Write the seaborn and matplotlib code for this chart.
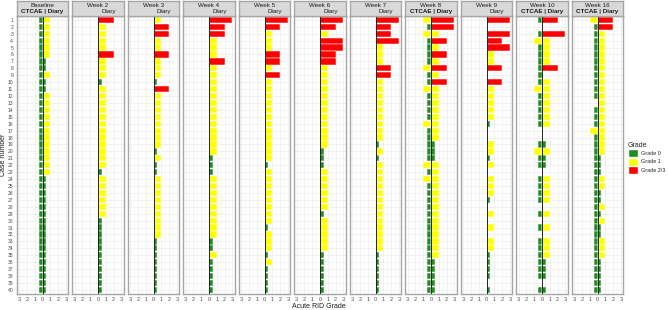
import numpy as np
import pandas as pd
import matplotlib
matplotlib.use('Agg')
import matplotlib.pyplot as plt
import seaborn as sns
from matplotlib.patches import Patch

N = None  # no record for that case
cases = list(range(1, 41))
panels = ['Baseline', 'Week 2', 'Week 3', 'Week 4', 'Week 5', 'Week 6',
          'Week 7', 'Week 8', 'Week 9', 'Week 10', 'Week 16']
grade_labels = ['Grade 0', 'Grade 1', 'Grade 2/3']
grade_colors = ['#228B22', '#FFFF00', '#FF0000']

# grades per case (1..40)
ctcae_base = [0] * 40
diary_base = [1, 1, 1, 1, 1, 1, 0, 0, 1, 0, 0, 1, 1, 1, 1, 1, 1, 1, 1, 1,
              1, 1, 1, 0, 0, 0, 0, 0, 0, 0, 0, 0, 0, 0, 0, 0, 0, 0, 0, 0]
diary_w2 = [2, 1, 1, 1, 1, 2, 1, 1, 1, 0, 1, 1, 1, 1, 1, 1, 1, 1, 1, 1,
            1, 1, 0, 1, 1, 1, 1, 1, 1, 0, 0, 0, 0, 0, 0, 0, 0, 0, 0, 0]
diary_w3 = [1, 2, 2, 1, 1, 2, 1, 1, 1, 0, 2, 1, 1, 1, 1, 1, 1, 1, 1, 0,
            1, 0, 0, 1, 1, 1, 1, 1, 1, 1, 1, 1, 0, 0, 0, 0, 0, 0, 0, 0]
diary_w4 = [3, 2, 2, 1, 1, 1, 2, 1, 1, 1, 1, 1, 1, 1, 1, 1, 1, 1, 1, 1,
            0, 0, 0, 1, 1, 1, 1, 1, 1, 1, 1, 1, 0, 0, 1, 0, 0, 0, 0, 0]
diary_w5 = [3, 2, 1, 1, 1, 2, 2, 1, 2, 1, 1, 1, 1, 1, 1, 1, 1, 1, 1, 1,
            1, 0, 1, 1, 1, 1, 1, 1, 1, 1, 0, 1, 1, 1, 0, 1, 0, 0, 0, 0]
diary_w6 = [3, 2, 1, 3, 3, 2, 2, 1, 1, 1, 1, 1, 1, 1, 1, 1, 1, 1, 1, 0,
            0, 0, 1, 1, 1, 1, 1, 1, 0, 1, 1, 1, 1, 1, 0, 0, 0, 0, 0, 0]
diary_w7 = [3, 2, 2, 3, 1, 1, 1, 2, 2, 1, 1, 1, 1, 1, 1, 1, 1, 1, 0, 1,
            0, 1, 1, 1, 1, 1, 1, 1, 1, 1, 1, 1, 1, 1, 0, 0, 0, 0, 0, 0]
ctcae_w8 = [1, 0, 1, 0, 0, 0, 0, 1, 0, 0, 1, 0, 0, 0, 0, 1, 0, 0, 0, 0,
            0, 1, 0, 1, 0, 0, 0, 0, 0, 0, 0, 0, 0, 0, 0, 0, 0, 0, 0, 0]
diary_w8 = [3, 3, 1, 2, 1, 2, 1, 2, 1, 2, 1, 1, 1, 1, 1, 1, 1, 1, 0, 0,
            0, 1, 1, 1, 1, 1, 1, 1, 1, 1, 1, 1, 1, 1, 1, 0, 0, 0, 0, 0]
diary_w9 = [3, N, 3, 2, 3, 1, 1, 2, N, 2, 1, 1, 1, 1, 1, 0, N, N, 1, 1,
            0, 1, N, 1, 1, 1, 0, N, 1, N, 1, N, 1, 1, 0, 0, 0, 0, N, 0]
ctcae_w10 = [0, N, 0, 1, 0, 0, 0, 0, 0, 0, 1, 0, 0, 0, 0, 0, N, N, 0, 1,
             0, 0, N, 0, 0, 0, 0, N, 0, N, 0, N, 0, 0, 0, 0, 0, 0, N, 0]
diary_w10 = [2, N, 3, 1, 1, 1, 1, 2, N, 1, 1, 1, 1, 1, 1, 1, N, N, 0, 1,
             0, 0, N, 1, 1, 1, 1, N, 1, N, 1, N, 1, 1, 1, 0, 0, 0, N, 0]
ctcae_w16 = [1, 0, 0, 0, 0, 0, 0, 0, 0, 0, 0, 0, N, 0, 0, 0, 1, 0, 0, 0,
             0, 0, 0, 0, 0, 0, 0, 0, 0, 0, 0, 0, 0, 0, 0, 0, 0, 0, 0, 0]
diary_w16 = [2, 2, 1, 1, 1, 1, 1, 1, 1, 1, 1, 1, 1, 1, 1, 1, 1, 1, 1, 1,
             0, 0, 0, 1, 1, 0, 0, 1, 0, 1, 0, 0, 1, 1, 1, 0, 0, 0, 0, 0]

ctcae = [ctcae_base, N, N, N, N, N, N, ctcae_w8, N, ctcae_w10, ctcae_w16]
diary = [diary_base, diary_w2, diary_w3, diary_w4, diary_w5, diary_w6,
         diary_w7, diary_w8, diary_w9, diary_w10, diary_w16]

# long table: CTCAE to the left (negative), Diary to the right
rows = []
for name, ct, di in zip(panels, ctcae, diary):
    for side, vals, sign in (('CTCAE', ct, -1), ('Diary', di, 1)):
        if vals is None:
            continue
        for c, g in zip(cases, vals):
            if g is None:
                continue
            length = 0.5 if g == 0 else g
            rows.append({'panel': name, 'side': side, 'case': c,
                         'grade': grade_labels[min(g, 2)], 'value': sign * length})
df = pd.DataFrame(rows)

sns.set_theme(style='white')
plt.rcParams['font.family'] = ['Liberation Sans', 'DejaVu Sans']

W, H = 669, 310
fig = plt.figure(figsize=(W / 100, H / 100), dpi=100)


def box(x0, y0, w, h):
    return [x0 / W, 1 - (y0 + h) / H, w / W, h / H]


border = '#A6A6A6'
for i, name in enumerate(panels):
    x0 = 16.7 + i * 55.5
    ax = fig.add_axes(box(x0, 15.7, 51.6, 278.3))
    for side in ['CTCAE', 'Diary']:
        sub = df[(df.panel == name) & (df.side == side)]
        if len(sub) == 0:
            continue
        sns.barplot(data=sub, x='value', y='case', hue='grade', order=cases,
                    hue_order=grade_labels, palette=grade_colors, orient='h',
                    dodge=False, width=0.9, saturation=1, errorbar=None,
                    legend=False, edgecolor='white', linewidth=0.35, ax=ax)
    ax.axvline(0, color='#222222', lw=0.7, zorder=3)
    ax.set_xlim(-3.3, 3.3)
    ax.set_ylim(39.6, -0.6)
    ax.set_xticks(range(-3, 4))
    ax.set_xticklabels(['3', '2', '1', '0', '1', '2', '3'])
    ax.set_xticks(np.arange(-2.5, 3, 1), minor=True)
    ax.set_yticks(range(40))
    ax.grid(True, which='major', color='#EBEBEB', lw=0.5)
    ax.grid(True, which='minor', axis='x', color='#F3F3F3', lw=0.3)
    ax.set_axisbelow(True)
    ax.set_xlabel('')
    ax.set_ylabel('')
    ax.tick_params(axis='x', labelsize=4, colors='#4D4D4D', length=1.5, width=0.4, pad=1)
    ax.tick_params(axis='x', which='minor', length=0)
    if i == 0:
        ax.set_yticklabels([str(c) for c in cases])
        ax.tick_params(axis='y', labelsize=3.6, colors='#4D4D4D', length=1.5, width=0.4, pad=1)
    else:
        ax.tick_params(axis='y', labelleft=False, left=False)
    for s in ax.spines.values():
        s.set_color(border)
        s.set_linewidth(1.0)

    sax = fig.add_axes(box(x0, 1, 51.6, 14.7))
    sax.set_facecolor('#D9D9D9')
    sax.set_xticks([])
    sax.set_yticks([])
    for s in sax.spines.values():
        s.set_color(border)
        s.set_linewidth(1.0)
    sax.text(0.5, 0.72, name, ha='center', va='center', fontsize=4.5, color='#1A1A1A')
    if ctcae[i] is not None:
        sax.text(0.5, 0.3, 'CTCAE | Diary', ha='center', va='center', fontsize=4.5,
                 fontweight='bold', color='#1A1A1A')
    else:
        sax.text(0.56, 0.3, 'Diary', ha='left', va='center', fontsize=4.5, color='#1A1A1A')

fig.text(4 / W, 1 - 155 / H, 'Case number', rotation=90, fontsize=5,
         ha='center', va='center', color='#1A1A1A')
fig.text(319 / W, 1 - 306 / H, 'Acute RID Grade', fontsize=5,
         ha='center', va='center', color='#1A1A1A')

handles = [Patch(facecolor=c, edgecolor='white', label=l)
           for c, l in zip(grade_colors, grade_labels)]
fig.legend(handles=handles, title='Grade', loc='upper left',
           bbox_to_anchor=(625 / W, 1 - 139 / H), frameon=False, fontsize=4,
           title_fontsize=5, handlelength=1.8, handleheight=1.8, labelspacing=0.1,
           handletextpad=0.5, borderpad=0, alignment='left')

fig.savefig('out.png', dpi=100)
